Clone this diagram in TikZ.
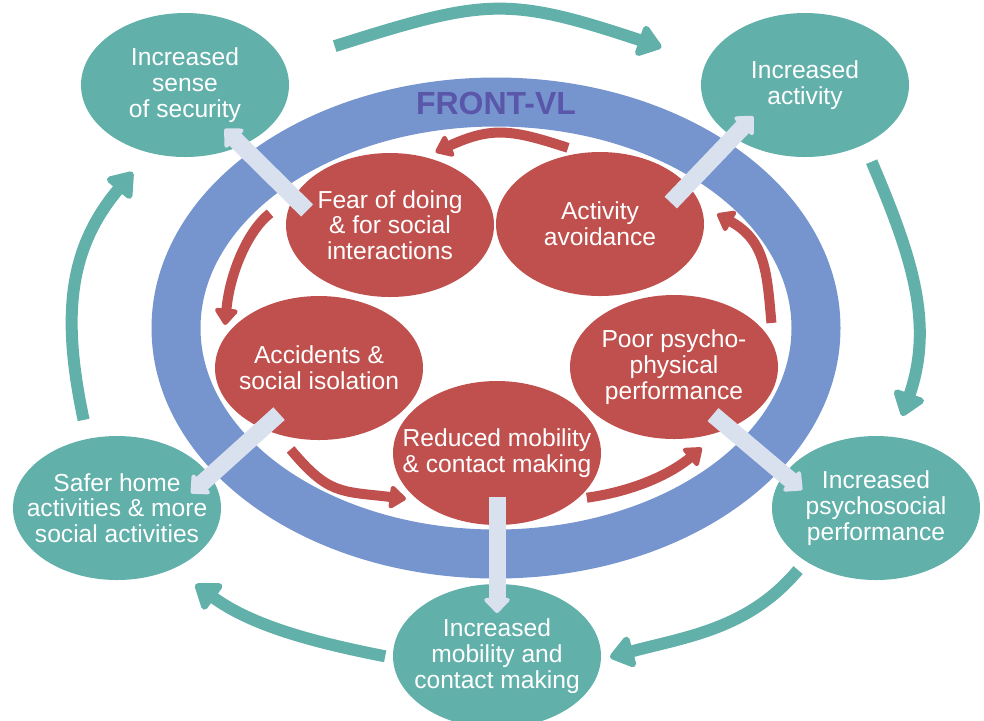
\documentclass[tikz,border=0pt]{standalone}
\usepackage{fontspec}
\setmainfont{Liberation Sans}
\usetikzlibrary{shapes.geometric,arrows.meta}
\definecolor{ringblue}{RGB}{118,148,205}
\definecolor{goalteal}{RGB}{98,176,170}
\definecolor{probred}{RGB}{192,80,77}
\definecolor{linkgrey}{RGB}{218,225,238}
\definecolor{frontviolet}{RGB}{90,86,170}
\tikzset{
  state/.style={ellipse, minimum width=104pt, minimum height=72pt, inner sep=-18pt,
    outer sep=0pt, text=white, align=center, font=\fontsize{12.3}{12.9}\selectfont},
  goal/.style={state, fill=goalteal},
  problem/.style={state, fill=probred},
  ring/.style={ellipse, draw=ringblue, line width=24.5pt, minimum width=320pt,
    minimum height=226pt, inner sep=0pt},
  ringlabel/.style={text=frontviolet, font=\fontsize{16}{16}\selectfont\bfseries},
  cyclearrow/.style={goalteal, line width=6pt, -{Triangle[width=18pt,length=13pt,round]}},
  looparrow/.style={probred, line width=5pt, -{Triangle[width=13pt,length=9pt,round]}},
  linkarrow/.style={linkgrey, line width=8.5pt, -{Triangle[width=15pt,length=8pt,round]}},
}

\begin{document}
\begin{tikzpicture}[x=0.5pt, y=-0.5pt]
  \useasboundingbox (0,0) rectangle (984,720);

  % Ring
  \node[ring] (frontvl) at (496,328) {} ;
  \node[ringlabel] (title) at (496,103) {FRONT-VL} ;

  % Nodes
  \node[goal] (secur) at (185,85)  {Increased\\sense\\of security} ;
  \node[goal] (act)   at (805,85)  {Increased\\activity} ;
  \node[goal] (psyc)  at (876,508) {Increased\\psychosocial\\performance} ;
  \node[goal] (mobil) at (497,656) {Increased\\mobility and\\contact making} ;
  \node[goal] (safer) at (117,508) {Safer home\\activities \& more\\social activities} ;

  \node[problem] (fear)  at (390,225) {Fear of doing\\\& for social\\interactions} ;
  \node[problem] (avoid) at (600,224) {Activity\\avoidance} ;
  \node[problem] (accid) at (319,368) {Accidents \&\\social isolation} ;
  \node[problem] (reduc) at (497,453) {Reduced mobility\\\& contact making} ;
  \node[problem] (poor)  at (674,367) {Poor psycho-\\physical\\performance} ;

  % Edges
  \draw[cyclearrow, shorten <=26.75pt, shorten >=23.65pt]
    (secur.13.6) to[out=17.5, in=161.6, looseness=1.28] (act.167.3);
  \draw[cyclearrow, shorten <=9.5pt, shorten >=11.25pt]
    (act.-45.9) to[out=-67, in=71, looseness=1.05] (psyc.75.4);
  \draw[cyclearrow, shorten <=5.9pt, shorten >=4.75pt]
    (psyc.-143.5) to[out=-130, in=15] (mobil.-2.5);
  \draw[cyclearrow, shorten <=4pt, shorten >=13.6pt]
    (mobil.181.4) to[out=169, in=-36] (safer.-47.5);
  \draw[cyclearrow, shorten <=9.7pt, shorten >=12.75pt]
    (safer.113.5) to[out=102, in=-130, looseness=1.1] (secur.-118.5);

  \draw[looparrow, shorten <=8.2pt, shorten >=6pt]
    (avoid.103.7) to[out=162, in=24.6, looseness=1.2] (fear.63.4);
  \draw[looparrow, shorten <=17.7pt, shorten >=7pt]
    (fear.160) to[out=-142, in=85] (accid.163);
  \draw[looparrow, shorten <=10pt, shorten >=6.3pt]
    (accid.-122.4) to[out=-50, in=173.4, looseness=1.3] (reduc.-149.7);
  \draw[looparrow, shorten <=5pt, shorten >=13.25pt]
    (reduc.-30.6) to[out=8, in=-140] (poor.-53.6);
  \draw[looparrow, shorten <=11.5pt, shorten >=9.75pt]
    (poor.12.8) to[out=95, in=-29, looseness=1.2] (avoid.11.8);

  \draw[linkarrow, shorten <=-9.25pt, shorten >=-11.75pt] (fear.164.7) -- (secur.-47.1);
  \draw[linkarrow, shorten <=-12.1pt, shorten >=-14.4pt] (avoid.24.1) -- (act.-144.9);
  \draw[linkarrow, shorten <=-11.1pt, shorten >=-12.85pt] (accid.-133.6) -- (safer.19.1);
  \draw[linkarrow, shorten <=-14pt, shorten >=-14.5pt] (reduc.south) -- (mobil.north);
  \draw[linkarrow, shorten <=-10.5pt, shorten >=-11.9pt] (poor.-48.6) -- (psyc.160.2);

\end{tikzpicture}
\end{document}
